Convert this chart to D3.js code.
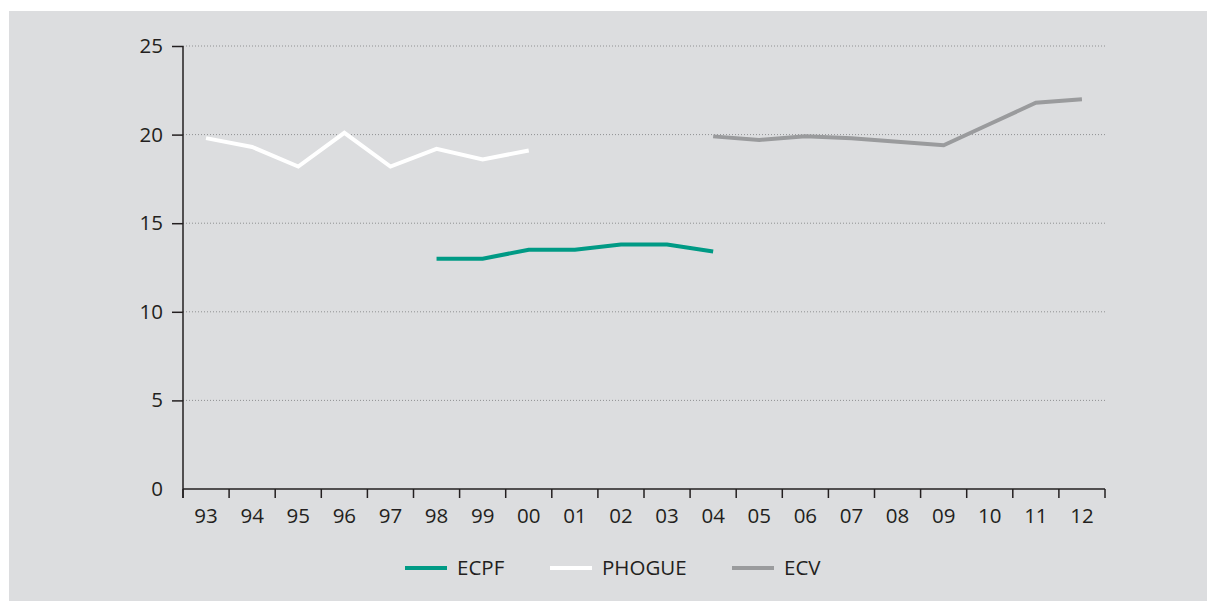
<!DOCTYPE html>
<html>
<head>
<meta charset="utf-8">
<script src="https://cdn.jsdelivr.net/npm/d3@7"></script>
<style>
  body { margin: 0; background: #ffffff; }
  svg text { font-family: "Open Sans", "Noto Sans", sans-serif; fill: #231f20; }
</style>
</head>
<body>
<div id="chart"></div>
<script>
// years on the x axis
var years = ["93", "94", "95", "96", "97", "98", "99", "00", "01", "02",
    "03", "04", "05", "06", "07", "08", "09", "10", "11", "12"];

// series values
var ecpfYears = ["98", "99", "00", "01", "02", "03", "04"];
var ecpfValues = [13.0, 13.0, 13.5, 13.5, 13.8, 13.8, 13.4];

var phogueYears = ["93", "94", "95", "96", "97", "98", "99", "00"];
var phogueValues = [19.8, 19.3, 18.2, 20.1, 18.2, 19.2, 18.6, 19.1];

var ecvYears = ["04", "05", "06", "07", "08", "09", "10", "11", "12"];
var ecvValues = [19.9, 19.7, 19.9, 19.8, 19.6, 19.4, 20.6, 21.8, 22.0];

var yTicks = [0, 5, 10, 15, 20, 25];

var seriesNames = ["ECPF", "PHOGUE", "ECV"];
var seriesColors = ["#009a85", "#ffffff", "#9a9b9d"];

var width = 1208, height = 601;
var margin = {top: 46, right: 103, bottom: 112, left: 183};
var fontSize = 20.5;

var svg = d3.select("#chart").append("svg")
    .attr("width", width)
    .attr("height", height);

// grey panel
svg.append("rect")
    .attr("x", 9)
    .attr("y", 11)
    .attr("width", width - 10)
    .attr("height", height - 11)
    .attr("fill", "#dcdddf");

var xScale = d3.scaleBand()
    .domain(years)
    .range([margin.left, width - margin.right])
    .padding(0);

var yScale = d3.scaleLinear()
    .domain([0, 25])
    .range([height - margin.bottom, margin.top]);

// dotted grid
svg.selectAll(".grid")
    .data(yTicks.filter(function (d) { return d > 0; }))
    .enter()
    .append("line")
    .attr("class", "grid")
    .attr("x1", margin.left)
    .attr("x2", width - margin.right)
    .attr("y1", function (d) { return yScale(d); })
    .attr("y2", function (d) { return yScale(d); })
    .attr("stroke", "#8f9092")
    .attr("stroke-width", 1)
    .attr("stroke-dasharray", "1,2");

// y axis
var yAxis = svg.append("g")
    .attr("transform", "translate(" + margin.left + ",0)")
    .call(d3.axisLeft(yScale).tickValues(yTicks).tickSize(11).tickPadding(9));
yAxis.select(".domain").remove();
yAxis.selectAll(".tick line")
    .attr("stroke", "#231f20")
    .attr("stroke-width", 1.5)
    .filter(function (d) { return d === 0; }).remove();
yAxis.selectAll(".tick text")
    .attr("font-size", fontSize)
    .attr("font-family", null)
    .attr("fill", "#231f20");
svg.append("line")
    .attr("x1", margin.left).attr("x2", margin.left)
    .attr("y1", yScale(25)).attr("y2", yScale(0) + 9)
    .attr("stroke", "#231f20").attr("stroke-width", 1.5);

// x axis: labels centred on bands, ticks on band edges
var xAxis = svg.append("g")
    .attr("transform", "translate(0," + yScale(0) + ")")
    .call(d3.axisBottom(xScale).tickSize(0).tickPadding(19));
xAxis.select(".domain").remove();
xAxis.selectAll(".tick text")
    .attr("font-size", fontSize)
    .attr("font-family", null)
    .attr("fill", "#231f20");

svg.append("line")
    .attr("x1", margin.left).attr("x2", width - margin.right)
    .attr("y1", yScale(0)).attr("y2", yScale(0))
    .attr("stroke", "#231f20").attr("stroke-width", 1.5);

var edges = years.map(function (d) { return xScale(d); }).concat([xScale.range()[1]]);
svg.selectAll(".xtick")
    .data(edges)
    .enter()
    .append("line")
    .attr("class", "xtick")
    .attr("x1", function (d) { return d; })
    .attr("x2", function (d) { return d; })
    .attr("y1", yScale(0))
    .attr("y2", yScale(0) + 9)
    .attr("stroke", "#231f20")
    .attr("stroke-width", 1.5);

// lines
var line = d3.line()
    .x(function (d) { return xScale(d.year) + xScale.bandwidth() / 2; })
    .y(function (d) { return yScale(d.value); });

function toPoints(ys, vs) {
    return ys.map(function (y, i) { return {year: y, value: vs[i]}; });
}

var seriesData = [
    toPoints(ecpfYears, ecpfValues),
    toPoints(phogueYears, phogueValues),
    toPoints(ecvYears, ecvValues)
];

svg.selectAll(".series")
    .data(seriesData)
    .enter()
    .append("path")
    .attr("class", "series")
    .attr("d", line)
    .attr("fill", "none")
    .attr("stroke", function (d, i) { return seriesColors[i]; })
    .attr("stroke-width", 4)
    .attr("stroke-linejoin", "miter");

// legend
var legendX = [405, 550, 732];
var legendY = 568;
var legend = svg.selectAll(".legend")
    .data(seriesNames)
    .enter()
    .append("g")
    .attr("class", "legend")
    .attr("transform", function (d, i) { return "translate(" + legendX[i] + "," + legendY + ")"; });

legend.append("line")
    .attr("x1", 0).attr("x2", 42)
    .attr("y1", 0).attr("y2", 0)
    .attr("stroke", function (d, i) { return seriesColors[i]; })
    .attr("stroke-width", 4);

legend.append("text")
    .attr("x", 52)
    .attr("y", 7)
    .attr("font-size", fontSize)
    .text(function (d) { return d; });
</script>
</body>
</html>
